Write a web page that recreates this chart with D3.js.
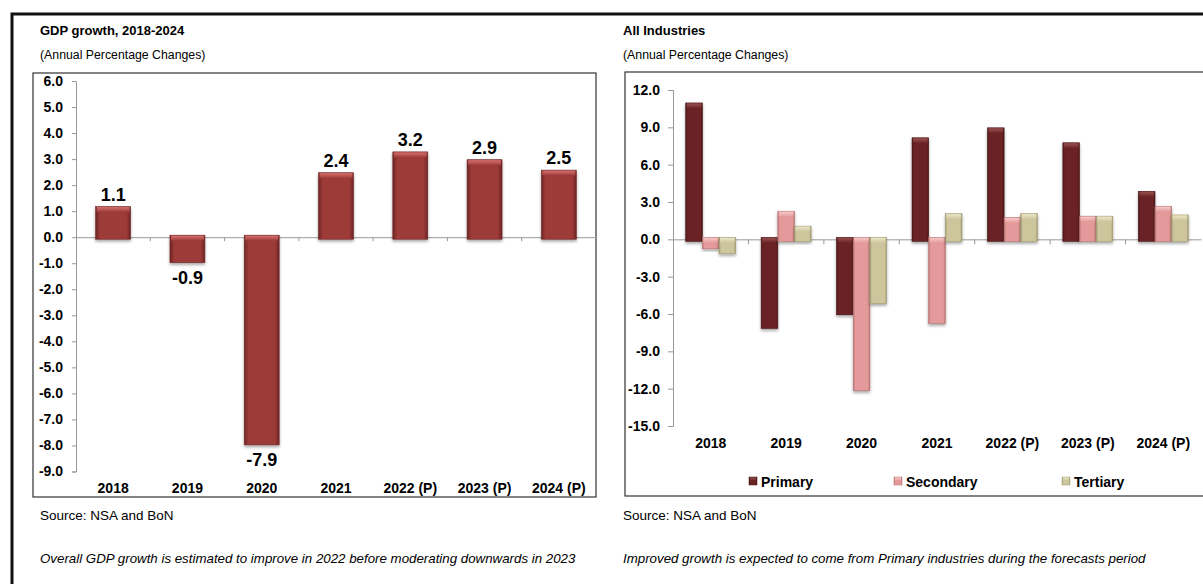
<!DOCTYPE html>
<html>
<head>
<meta charset="utf-8">
<script src="https://cdn.jsdelivr.net/npm/d3@7"></script>
<style>
  html, body { margin: 0; padding: 0; background: #fff; }
  svg { display: block; font-family: "Liberation Sans", Arial, sans-serif; }
</style>
</head>
<body>
<svg id="chart" width="1203" height="584"></svg>
<script>
// ---------- Data ----------
const years = ["2018", "2019", "2020", "2021", "2022 (P)", "2023 (P)", "2024 (P)"];
const gdpGrowth = [1.1, -0.9, -7.9, 2.4, 3.2, 2.9, 2.5];
const gdpTicks = [6, 5, 4, 3, 2, 1, 0, -1, -2, -3, -4, -5, -6, -7, -8, -9];

const seriesNames = ["Primary", "Secondary", "Tertiary"];
const primary   = [10.8, -7.0, -5.9, 8.0, 8.8, 7.6, 3.7];
const secondary = [-0.6, 2.1, -12.0, -6.6, 1.6, 1.7, 2.5];
const tertiary  = [-1.0, 0.9, -5.0, 1.9, 1.9, 1.7, 1.8];
const industryTicks = [12, 9, 6, 3, 0, -3, -6, -9, -12, -15];

const leftTexts = {
  title: "GDP growth, 2018-2024",
  subtitle: "(Annual Percentage Changes)",
  source: "Source: NSA and BoN",
  note: "Overall GDP growth is estimated to improve in 2022 before moderating downwards in 2023"
};
const rightTexts = {
  title: "All Industries",
  subtitle: "(Annual Percentage Changes)",
  source: "Source: NSA and BoN",
  note: "Improved growth is expected to come from Primary industries during the forecasts period"
};

// ---------- Setup ----------
const fmt = d => d.toFixed(1);   // hyphen-minus, as in the original
const svg = d3.select("#chart");
const defs = svg.append("defs");

const palette = {
  gdp:       { base: "#9c3a39", dark: "#6e2423", light: "#d7716f" },
  Primary:   { base: "#6a2425", dark: "#4a1617", light: "#9a5050" },
  Secondary: { base: "#e49a9a", dark: "#b97272", light: "#f7caca" },
  Tertiary:  { base: "#cdc59c", dark: "#a19a72", light: "#ece6c8" }
};

function makeGradients(key, c) {
  const h = defs.append("linearGradient").attr("id", "side-" + key)
    .attr("x1", "0").attr("x2", "1").attr("y1", "0").attr("y2", "0");
  h.append("stop").attr("offset", "0").attr("stop-color", c.dark);
  h.append("stop").attr("offset", "0.12").attr("stop-color", c.base);
  h.append("stop").attr("offset", "0.88").attr("stop-color", c.base);
  h.append("stop").attr("offset", "1").attr("stop-color", c.dark);
  const t = defs.append("linearGradient").attr("id", "cap-" + key)
    .attr("x1", "0").attr("x2", "0").attr("y1", "0").attr("y2", "1");
  t.append("stop").attr("offset", "0").attr("stop-color", c.light);
  t.append("stop").attr("offset", "1").attr("stop-color", c.base);
}
Object.entries(palette).forEach(([k, c]) => makeGradients(k, c));

const shadow = defs.append("filter").attr("id", "shadow")
  .attr("x", "-30%").attr("y", "-10%").attr("width", "160%").attr("height", "130%");
shadow.append("feDropShadow").attr("dx", 0).attr("dy", 2).attr("stdDeviation", 1.5)
  .attr("flood-color", "#000").attr("flood-opacity", 0.35);

function drawBar(g, x, w, y0, y1, key) {
  const top = Math.min(y0, y1) - 2;
  const h = Math.abs(y1 - y0) + 4;
  const grp = g.append("g").attr("filter", "url(#shadow)");
  grp.append("rect").attr("x", x).attr("y", top).attr("width", w).attr("height", h)
    .attr("fill", "url(#side-" + key + ")")
    .attr("stroke", palette[key].dark).attr("stroke-width", 0.6);
  grp.append("rect").attr("x", x + 1).attr("y", top + 0.5)
    .attr("width", w - 2).attr("height", Math.min(5, h - 1))
    .attr("fill", "url(#cap-" + key + ")");
}

// ---------- Outer frame ----------
svg.append("path").attr("d", "M12,584 L12,14 L1203,14")
  .attr("fill", "none").attr("stroke", "#111").attr("stroke-width", 3);

function headerTexts(x, t) {
  svg.append("text").attr("x", x).attr("y", 35).attr("font-size", 13)
    .attr("font-weight", "bold").attr("fill", "#000").text(t.title);
  svg.append("text").attr("x", x).attr("y", 59).attr("font-size", 12.3)
    .attr("fill", "#000").text(t.subtitle);
  svg.append("text").attr("x", x).attr("y", 520).attr("font-size", 13.5)
    .attr("fill", "#000").text(t.source);
  svg.append("text").attr("x", x).attr("y", 563).attr("font-size", 13.3)
    .attr("font-style", "italic").attr("fill", "#000").text(t.note);
}

// ---------- Left chart ----------
headerTexts(40, leftTexts);
svg.append("rect").attr("x", 33).attr("y", 73).attr("width", 563).attr("height", 424)
  .attr("fill", "none").attr("stroke", "#333").attr("stroke-width", 1.2);

const lx = d3.scaleBand().domain(years).range([76, 596]).paddingInner(0.53).paddingOuter(0.265);
const lxCat = d3.scaleBand().domain(years).range([76, 596]).padding(0);
const ly = d3.scaleLinear().domain([-9, 6]).range([471.5, 81]);

const lAxis = svg.append("g").attr("transform", "translate(76,0)")
  .call(d3.axisLeft(ly).tickValues(gdpTicks).tickSize(4).tickPadding(9).tickFormat(fmt));
lAxis.select(".domain").attr("stroke", "#999");
lAxis.selectAll(".tick line").attr("stroke", "#999");
lAxis.selectAll(".tick text").attr("font-size", 14).attr("font-weight", "bold")
  .attr("fill", "#000").attr("font-family", "Liberation Sans, Arial, sans-serif");

// zero line + category ticks
const lZero = svg.append("g").attr("transform", `translate(0,${ly(0)})`)
  .call(d3.axisBottom(lxCat).tickSize(0).tickFormat(""));
lZero.select(".domain").attr("stroke", "#999");
svg.append("g").selectAll("line").data(years.slice(1))
  .join("line")
  .attr("x1", d => lxCat(d)).attr("x2", d => lxCat(d))
  .attr("y1", ly(0)).attr("y2", ly(0) + 4).attr("stroke", "#999");

const lBars = svg.append("g");
years.forEach((yr, i) => {
  drawBar(lBars, lx(yr), lx.bandwidth(), ly(0), ly(gdpGrowth[i]), "gdp");
});
svg.append("g").selectAll("text").data(years).join("text")
  .attr("x", d => lx(d) + lx.bandwidth() / 2)
  .attr("y", (d, i) => gdpGrowth[i] >= 0 ? ly(gdpGrowth[i]) - 8 : ly(gdpGrowth[i]) + 23)
  .attr("text-anchor", "middle").attr("font-size", 18).attr("font-weight", "bold")
  .attr("fill", "#000").text((d, i) => fmt(gdpGrowth[i]));

svg.append("g").selectAll("text").data(years).join("text")
  .attr("x", d => lxCat(d) + lxCat.bandwidth() / 2).attr("y", 493)
  .attr("text-anchor", "middle").attr("font-size", 14).attr("font-weight", "bold")
  .attr("fill", "#000").text(d => d);

// ---------- Right chart ----------
headerTexts(623, rightTexts);
svg.append("rect").attr("x", 625).attr("y", 72).attr("width", 582).attr("height", 424)
  .attr("fill", "none").attr("stroke", "#333").attr("stroke-width", 1.2);

const rxCat = d3.scaleBand().domain(years).range([673, 1201]).padding(0);
const rx = d3.scaleBand().domain(years).range([673, 1201]).paddingInner(0.338).paddingOuter(0.169);
const rxs = d3.scaleBand().domain(seriesNames).range([0, rx.bandwidth()]).padding(0);
const ry = d3.scaleLinear().domain([-15, 12]).range([426, 90]);

const rAxis = svg.append("g").attr("transform", "translate(673,0)")
  .call(d3.axisLeft(ry).tickValues(industryTicks).tickSize(5).tickPadding(8).tickFormat(fmt));
rAxis.select(".domain").attr("stroke", "#999");
rAxis.selectAll(".tick line").attr("stroke", "#999");
rAxis.selectAll(".tick text").attr("font-size", 14).attr("font-weight", "bold")
  .attr("fill", "#000").attr("font-family", "Liberation Sans, Arial, sans-serif");

const rZero = svg.append("g").attr("transform", `translate(0,${ry(0)})`)
  .call(d3.axisBottom(rxCat).tickSize(0).tickFormat(""));
rZero.select(".domain").attr("stroke", "#999");
svg.append("g").selectAll("line").data(years.slice(1))
  .join("line")
  .attr("x1", d => rxCat(d)).attr("x2", d => rxCat(d))
  .attr("y1", ry(0)).attr("y2", ry(0) + 5).attr("stroke", "#999");

const seriesData = { Primary: primary, Secondary: secondary, Tertiary: tertiary };
const rBars = svg.append("g");
years.forEach((yr, i) => {
  seriesNames.forEach(s => {
    drawBar(rBars, rx(yr) + rxs(s), rxs.bandwidth(), ry(0), ry(seriesData[s][i]), s);
  });
});

svg.append("g").selectAll("text").data(years).join("text")
  .attr("x", d => rxCat(d) + rxCat.bandwidth() / 2).attr("y", 448)
  .attr("text-anchor", "middle").attr("font-size", 14).attr("font-weight", "bold")
  .attr("fill", "#000").text(d => d);

// legend
const legendX = [749, 894, 1062];
const lg = svg.append("g").selectAll("g").data(seriesNames).join("g")
  .attr("transform", (d, i) => `translate(${legendX[i]},477)`);
lg.append("rect").attr("width", 8).attr("height", 8)
  .attr("fill", d => `url(#side-${d})`).attr("stroke", d => palette[d].dark).attr("stroke-width", 0.5);
lg.append("rect").attr("x", 1).attr("y", 0.5).attr("width", 6).attr("height", 3)
  .attr("fill", d => `url(#cap-${d})`);
lg.append("text").attr("x", 12).attr("y", 9.5).attr("font-size", 14).attr("font-weight", "bold")
  .attr("fill", "#000").text(d => d);
</script>
</body>
</html>
